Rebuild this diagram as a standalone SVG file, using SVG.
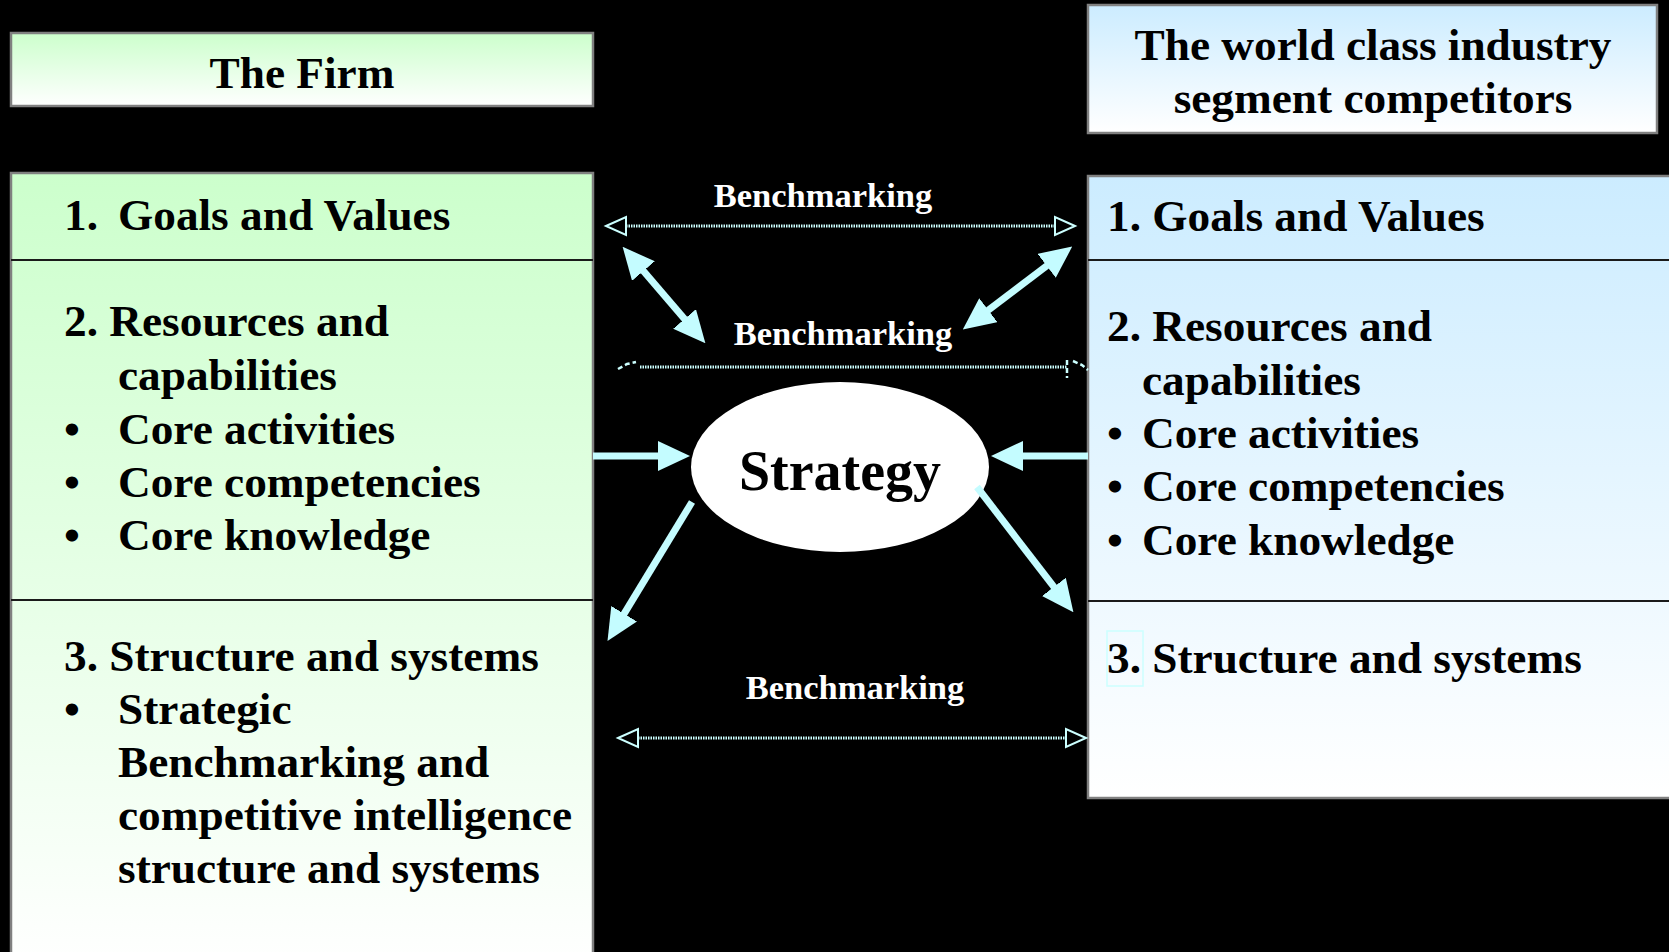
<svg xmlns="http://www.w3.org/2000/svg" width="1669" height="952" viewBox="0 0 1669 952">
  <defs>
    <linearGradient id="gGreen" x1="0" y1="0" x2="0" y2="1">
      <stop offset="0" stop-color="#CCFFCC"/>
      <stop offset="1" stop-color="#FFFFFF"/>
    </linearGradient>
    <linearGradient id="gBlue" x1="0" y1="0" x2="0" y2="1">
      <stop offset="0" stop-color="#CCECFF"/>
      <stop offset="1" stop-color="#FFFFFF"/>
    </linearGradient>
    <marker id="head" viewBox="0 0 32 30" markerUnits="userSpaceOnUse" markerWidth="32" markerHeight="30" refX="1" refY="15" orient="auto-start-reverse">
      <path d="M0,0 L32,15 L0,30 z" fill="#C4FCFF"/>
    </marker>
  </defs>
  <style>
    .box { stroke: #808080; stroke-width: 2.5; }
    .div { stroke: #1a1a1a; stroke-width: 2; }
    .t { font-family: "Liberation Serif", "Times New Roman", serif; font-weight: bold; font-size: 45.3px; fill: #000; }
    .bm { font-family: "Liberation Serif", "Times New Roman", serif; font-weight: bold; font-size: 34.5px; fill: #fff; text-anchor: middle; }
    .thick { stroke: #C4FCFF; stroke-width: 7; fill: none; marker-end: url(#head); }
    .both { marker-start: url(#head); }
    .dot { stroke: #CCFFFF; stroke-width: 3; stroke-dasharray: 1.5 1; fill: none; }
    .open { stroke: #CCFFFF; stroke-width: 2; fill: #000; }
    .broken { stroke: #CCFFFF; stroke-width: 2.5; fill: none; stroke-dasharray: 5 3; }
  </style>

  <rect width="1669" height="952" fill="#000"/>

  <!-- The firm header -->
  <g id="firm-header">
    <rect class="box" x="11" y="33" width="582" height="73" fill="url(#gGreen)"/>
    <text class="t" x="302" y="88" text-anchor="middle">The Firm</text>
  </g>

  <!-- Competitors header -->
  <g id="competitors-header">
    <rect class="box" x="1088" y="5" width="569" height="128" fill="url(#gBlue)"/>
    <text class="t" x="1373" y="60" text-anchor="middle">The world class industry</text>
    <text class="t" x="1373" y="113" text-anchor="middle">segment competitors</text>
  </g>

  <!-- The firm profile -->
  <g id="firm-profile">
    <rect class="box" x="11" y="173" width="582" height="800" fill="url(#gGreen)"/>
    <line class="div" x1="11" y1="260" x2="593" y2="260"/>
    <line class="div" x1="11" y1="600" x2="593" y2="600"/>
    <text class="t" x="64" y="230">1.</text>
    <text class="t" x="118" y="230">Goals and Values</text>
    <text class="t" x="64" y="336">2. Resources and</text>
    <text class="t" x="118" y="390">capabilities</text>
    <text class="t" x="64" y="444">•</text>
    <text class="t" x="118" y="444">Core activities</text>
    <text class="t" x="64" y="497">•</text>
    <text class="t" x="118" y="497">Core competencies</text>
    <text class="t" x="64" y="550">•</text>
    <text class="t" x="118" y="550">Core knowledge</text>
    <text class="t" x="64" y="671">3. Structure and systems</text>
    <text class="t" x="64" y="724">•</text>
    <text class="t" x="118" y="724">Strategic</text>
    <text class="t" x="118" y="777">Benchmarking and</text>
    <text class="t" x="118" y="830">competitive intelligence</text>
    <text class="t" x="118" y="883">structure and systems</text>
  </g>

  <!-- Competitors profile -->
  <g id="competitors-profile">
    <rect class="box" x="1088" y="176" width="600" height="622" fill="url(#gBlue)"/>
    <line class="div" x1="1088" y1="260" x2="1669" y2="260"/>
    <line class="div" x1="1088" y1="601" x2="1669" y2="601"/>
    <text class="t" x="1107" y="231">1. Goals and Values</text>
    <text class="t" x="1107" y="341">2. Resources and</text>
    <text class="t" x="1142" y="395">capabilities</text>
    <text class="t" x="1107" y="448">•</text>
    <text class="t" x="1142" y="448">Core activities</text>
    <text class="t" x="1107" y="501">•</text>
    <text class="t" x="1142" y="501">Core competencies</text>
    <text class="t" x="1107" y="555">•</text>
    <text class="t" x="1142" y="555">Core knowledge</text>
    <rect x="1107" y="631" width="36" height="55" fill="none" stroke="#CCFFFF" stroke-width="1.5"/>
    <text class="t" x="1107" y="673">3. Structure and systems</text>
  </g>

  <!-- Strategy -->
  <g id="strategy">
    <ellipse cx="840" cy="467" rx="149" ry="85" fill="#fff"/>
    <text x="840" y="490" text-anchor="middle" font-family="Liberation Serif, Times New Roman, serif" font-weight="bold" font-size="56">Strategy</text>
  </g>

  <!-- Connectors -->
  <g id="connectors">
    <!-- inputs to strategy -->
    <line class="thick" x1="593" y1="456" x2="659" y2="456"/>
    <line class="thick" x1="1088" y1="456" x2="1022" y2="456"/>
    <!-- outputs from strategy -->
    <line class="thick" x1="692" y1="502" x2="623.6" y2="614.6"/>
    <line class="thick" x1="977" y1="487" x2="1054.5" y2="587.7"/>
    <!-- diagonal two-way links -->
    <line class="thick both" x1="642.8" y1="270.3" x2="685.2" y2="319.7"/>
    <line class="thick both" x1="1047.5" y1="265.3" x2="987.5" y2="310.7"/>

    <!-- benchmarking: goals -->
    <line class="dot" x1="626" y1="226" x2="1055" y2="226"/>
    <polygon class="open" points="606,226 626,217 626,235"/>
    <polygon class="open" points="1075,226 1055,217 1055,235"/>
    <text class="bm" x="823" y="207">Benchmarking</text>

    <!-- benchmarking: resources -->
    <line class="dot" x1="640" y1="367" x2="1067" y2="367"/>
    <polyline class="broken" points="618,369 627,364 636,362"/>
    <line class="broken" x1="1067" y1="360" x2="1067" y2="378"/>
    <polyline class="broken" points="1073,361 1082,365 1088,370"/>
    <text class="bm" x="843" y="345">Benchmarking</text>

    <!-- benchmarking: structure -->
    <line class="dot" x1="638" y1="738" x2="1066" y2="738"/>
    <polygon class="open" points="618,738 638,729 638,747"/>
    <polygon class="open" points="1086,738 1066,729 1066,747"/>
    <text class="bm" x="855" y="699">Benchmarking</text>
  </g>
</svg>
